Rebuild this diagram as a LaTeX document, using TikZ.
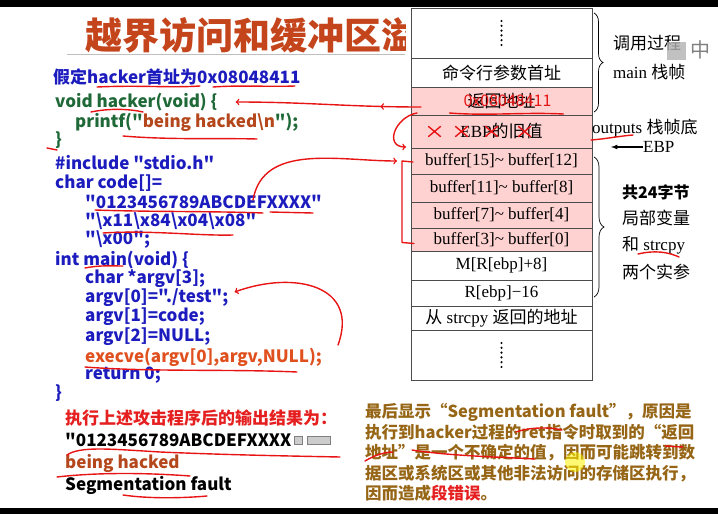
\documentclass[tikz,border=0pt]{standalone}
\usepackage{fontspec}
\setmainfont{Liberation Serif}
\newfontfamily\cjk{Noto Sans CJK SC}
\usetikzlibrary{calc, positioning, decorations.markings, decorations.pathreplacing}

\definecolor{ctitle}{RGB}{196,68,28}
\definecolor{cblue}{RGB}{28,28,190}
\definecolor{cgreen}{RGB}{30,105,55}
\definecolor{cbrown}{RGB}{181,71,28}
\definecolor{corange}{RGB}{224,80,30}
\definecolor{cred}{RGB}{229,31,31}
\definecolor{cgold}{RGB}{150,102,22}
\definecolor{pinkfill}{RGB}{255,210,210}
\definecolor{annored}{RGB}{232,20,20}

\begin{document}
\begin{tikzpicture}[x=1pt, y=-1pt,
  row/.style={draw=black!70, line width=0.8pt, minimum width=181, inner sep=0pt,
    outer sep=0pt, fill=white, font=\fontsize{17}{20}\selectfont},
  hot/.style={row, fill=pinkfill},
  side/.style={anchor=west, inner sep=0pt, font=\fontsize{17}{20}\selectfont},
  code/.style={anchor=west, inner sep=0pt, font=\cjk\bfseries\fontsize{17}{20}\selectfont},
  redpen/.style={draw=annored, line width=1.4pt, line cap=round, line join=round},
  midarrow/.style={postaction={decorate, decoration={markings,
    mark=at position 0.22 with {\arrow{>}}}}},
]
  \useasboundingbox (0,0) rectangle (718,514);
  \fill[black] (0,0) rectangle (718,7);
  \fill[black] (0,508) rectangle (718,514);

  % 标题（被栈图遮住）
  \begin{scope}
    \clip (0,0) rectangle (405,60);
    \node[anchor=west, inner sep=0pt, text=ctitle,
      font=\cjk\bfseries\fontsize{37}{40}\selectfont] (title) at (85,35) {越界访问和缓冲区溢出};
    \draw[gray!50, line width=1pt] (67,54) -- (405,54);
  \end{scope}

  % 代码
  \node[code, text=cblue] (assume) at (53,77) {假定hacker首址为0x08048411};
  \node[code, text=cgreen] (hacker) at (55,102) {void hacker(void) \{};
  \node[code, text=cgreen] (printf) at (75,122) {printf("\textcolor{cbrown}{being hacked\textbackslash n}");};
  \node[code, text=cgreen] (hackend) at (55,140) {\}};
  \node[code, text=cblue] (incl) at (55,163) {\#include "stdio.h"};
  \node[code, text=cblue] (codedef) at (55,183) {char code[]=};
  \node[code, text=cblue] (str1) at (85,202) {"0123456789ABCDEFXXXX"};
  \node[code, text=cblue] (str2) at (85,221) {"\textbackslash x11\textbackslash x84\textbackslash x04\textbackslash x08"};
  \node[code, text=cblue] (str3) at (85,240) {"\textbackslash x00";};
  \node[code, text=cblue] (mainhd) at (55,260) {int main(void) \{};
  \node[code, text=cblue] (argvdef) at (85,279) {char *argv[3];};
  \node[code, text=cblue] (argv0) at (85,298) {argv[0]="./test";};
  \node[code, text=cblue] (argv1) at (85,317) {argv[1]=code;};
  \node[code, text=cblue] (argv2) at (85,337) {argv[2]=NULL;};
  \node[code, text=corange] (execve) at (85,357) {execve(argv[0],argv,NULL);};
  \node[code, text=cblue] (ret0) at (85,375) {return 0;};
  \node[code, text=cblue] (mainend) at (55,393) {\}};

  % 输出结果
  \node[code, text=cred] (outhd) at (65,418) {执行上述攻击程序后的输出结果为：};
  \node[code] (out1) at (65,440) {"0123456789ABCDEFXXXX};
  \node[code, text=cbrown] (out2) at (65,463) {being hacked};
  \node[code] (out3) at (65,485) {Segmentation fault};
  \filldraw[fill=gray!40, draw=gray] ($(out1.east)+(3,-4)$) rectangle ++(8,8);
  \filldraw[fill=gray!40, draw=gray] ($(out1.east)+(16,-4)$) rectangle ++(23,8);

  \node[anchor=north west, inner sep=0pt, align=left, text=cgold,
    font=\cjk\bfseries\fontsize{16.5}{20.5}\selectfont] (reason) at (365,403)
    {最后显示“Segmentation fault”，原因是\\
     执行到hacker过程的ret指令时取到的“返回\\
     地址”是一个不确定的值，因而可能跳转到数\\
     据区或系统区或其他非法访问的存储区执行，\\
     因而造成\textcolor{cred}{段错误}。};

  % 栈帧
  \node[row, minimum height=50] (dots1) at (501.5,33) {};
  \node[row, minimum height=29, below=0pt of dots1] (cmd) {\cjk 命令行参数首址};
  \node[hot, minimum height=28, below=0pt of cmd] (ret) {\cjk 返回地址};
  \node[hot, minimum height=33, below=0pt of ret] (ebp) {EBP{\cjk 的旧值}};
  \node[hot, minimum height=26, below=0pt of ebp] (b15) {buffer[15]\textasciitilde\ buffer[12]};
  \node[hot, minimum height=28, below=0pt of b15] (b11) {buffer[11]\textasciitilde\ buffer[8]};
  \node[hot, minimum height=26, below=0pt of b11] (b7) {buffer[7]\textasciitilde\ buffer[4]};
  \node[hot, minimum height=23, below=0pt of b7] (b3) {buffer[3]\textasciitilde\ buffer[0]};
  \node[row, minimum height=29, below=0pt of b3] (marg) {M[R[ebp]+8]};
  \node[row, minimum height=26, below=0pt of marg] (rebp) {R[ebp]−16};
  \node[row, minimum height=24, below=0pt of rebp] (strret) {{\cjk 从} strcpy {\cjk 返回的地址}};
  \node[row, minimum height=50, below=0pt of strret] (dots2) {};
  \foreach \k in {0,...,5} {
    \fill ($(dots1.center)+(0,-12+4.8*\k)$) circle (1.2);
    \fill ($(dots2.center)+(0,-12+4.8*\k)$) circle (1.2);
  }

  \draw[decorate, decoration={brace, amplitude=9pt}, line width=0.7pt] (594,13) -- (594,112);
  \draw[decorate, decoration={brace, amplitude=10pt}, line width=0.7pt] (594,157) -- (594,297);
  \node[side] (caller) at (613,43) {\cjk 调用过程};
  \node[side] (mainfr) at (613,72) {main {\cjk 栈帧}};
  \node[side] (outp) at (592,128) {outputs {\cjk 栈帧底}};
  \node[side] (ebplab) at (643,147) {EBP};
  \coordinate (ebpptr) at (611,147);
  \draw[line width=1.2pt, -latex] (ebplab.west) -- (ebpptr);
  \node[side, font=\cjk\bfseries\fontsize{16}{20}\selectfont] (total) at (622,192) {共24字节};
  \node[side] (loc) at (622,218) {\cjk 局部变量};
  \node[side] (andst) at (622,245) {{\cjk 和} strcpy};
  \node[side] (twoarg) at (622,272) {\cjk 两个实参};
  \fill[gray!60, opacity=0.8] (667,42) rectangle (686,60);
  \node[side, text=gray, font=\cjk\fontsize{20}{20}\selectfont] (ime) at (690,50) {中};

  % 红笔批注
  \node[text=annored, font=\cjk\fontsize{16}{16}\selectfont] (scrawl) at ($(ret.center)+(6,0)$) {0x08048411};
  \draw[redpen] ($(ret.center)+(-52,12)$) .. controls +(40,3) and +(-40,-2) .. ($(ret.center)+(62,13)$);
  \foreach \dx in {-67,-40,-10,23}
    \draw[redpen] ($(ebp.center)+(\dx-6,-5)$) -- ++(12,10) ($(ebp.center)+(\dx+6,-5)$) -- ++(-12,10);
  \draw[redpen, ->, midarrow] ($(ret.west)+(10,6)$) to[out=180, in=0] ($(hacker.east)+(18,0)$);
  \draw[redpen, ->] ($(ret.west)+(6,12)$) to[out=190, in=180, looseness=1.6] ($(ebp.south west)+(-5,-1)$);
  \draw[redpen, ->] ($(str1.west)+(168,-2)$) to[out=80, in=180] ($(b15.west)+(-14,0)$);
  \draw[redpen] ($(b15.west)+(2,1)$) -- ++(-11,-1) -- ($(b3.west)+(-9,3)$) -- ($(b3.west)+(3,4)$);
  \draw[redpen, ->] ($(execve.east)+(16,-12)$) to[out=70, in=20, looseness=1.4] ($(argv0.east)+(6,-6)$);

  \draw[redpen] (97,87) .. controls (140,85) and (170,88) .. (200,86);
  \draw[redpen] (213,87) .. controls (240,85) and (270,87) .. (295,86);
  \draw[redpen] (91,112) .. controls (110,108) and (130,109) .. (143,112);
  \draw[redpen] (123,136) .. controls (170,140) and (220,138) .. (257,139);
  \draw[redpen] (47,148) -- (57,150);
  \draw[redpen] (95,210) .. controls (150,212) and (210,211) .. (263,213);
  \draw[redpen] (270,212) -- (313,213);
  \draw[redpen] (103,233) .. controls (150,230) and (200,236) .. (233,235);
  \draw[redpen] (85,268) .. controls (100,265) and (112,266) .. (123,266);
  \draw[redpen] (85,367) .. controls (150,372) and (230,369) .. (297,372);
  \draw[redpen] (67,455) .. controls (80,446) and (110,449) .. (160,452) .. controls (230,455) and (290,456) .. (340,457);
  \draw[redpen] (57,477) .. controls (100,472) and (150,473) .. (190,476);
  \draw[redpen] (123,495) .. controls (150,499) and (185,498) .. (207,496);
  \draw[redpen] (591,140) .. controls (605,139) and (620,136) .. (633,135);
  \draw[redpen] (638,254) .. controls (655,250) and (668,252) .. (679,257);
  \draw[redpen] (516,432) .. controls (530,427) and (550,427) .. (562,430);
  \draw[redpen] (665,446) -- (683,447);
  \draw[redpen] (365,461) .. controls (375,455) and (385,452) .. (393,452);
  \draw[redpen] (412,450) .. controls (450,456) and (500,457) .. (535,459);

  \fill[yellow, opacity=0.55] (575,462) circle (10);
\end{tikzpicture}
\end{document}
